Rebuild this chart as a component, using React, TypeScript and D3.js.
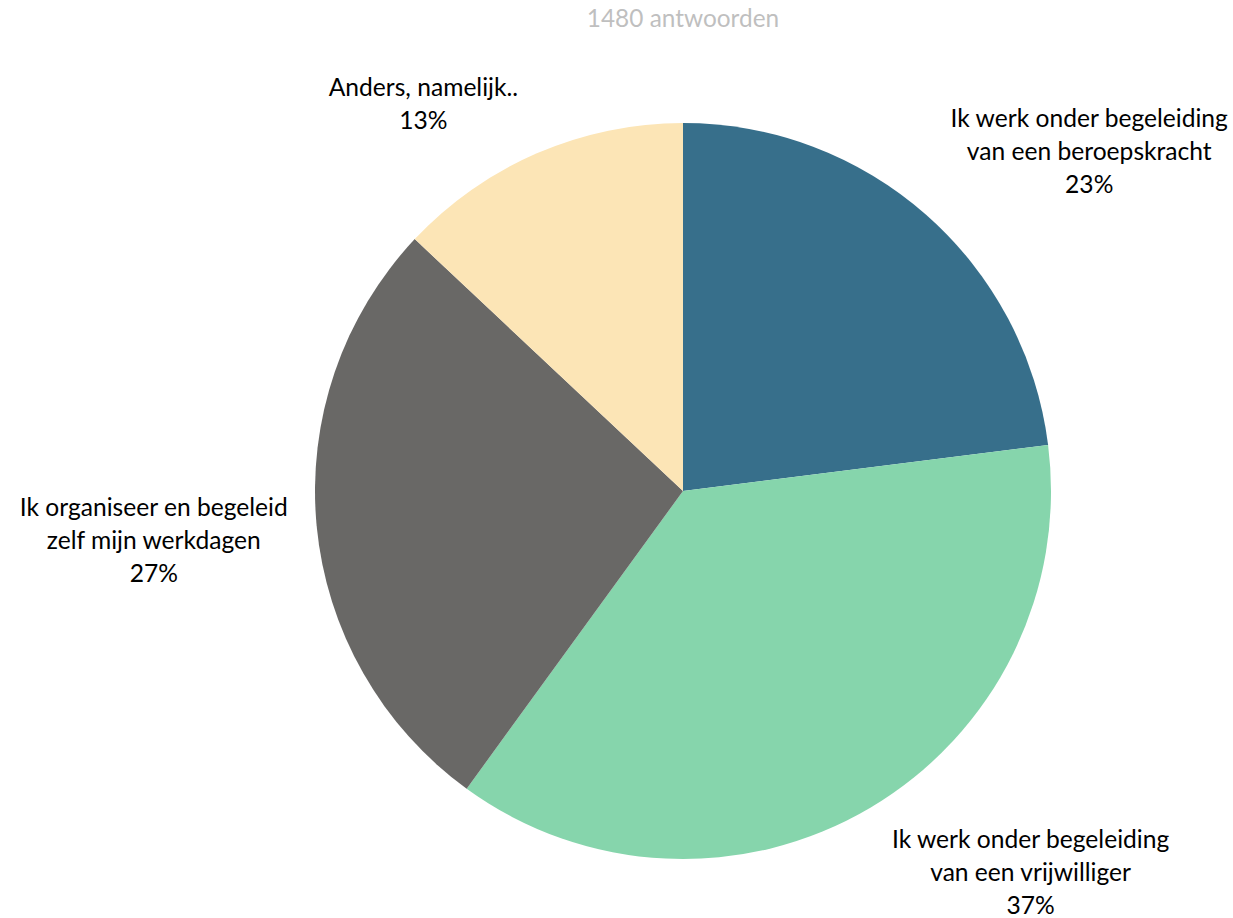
import React, {useEffect, useRef} from 'react';
import * as d3 from 'd3';

const categories = [
  'Ik werk onder begeleiding|van een beroepskracht',
  'Ik werk onder begeleiding|van een vrijwilliger',
  'Ik organiseer en begeleid|zelf mijn werkdagen',
  'Anders, namelijk..'
];
const shares = [23, 37, 27, 13];
const colors = ['#376f8b', '#86d5ac', '#696866', '#fce5b6'];
const title = '1480 antwoorden';

const W = 1233;
const H = 918;
const cx = 683;
const cy = 491;
const radius = 368;
const font = 'Lato, "Open Sans", sans-serif';

function App() {
  const ref = useRef<SVGSVGElement>(null);

  useEffect(() => {
    const svg = d3.select(ref.current);
    svg.selectAll('*').remove();

    const rows = categories.map((c, i) => ({name: c, value: shares[i], color: colors[i]}));
    const pie = d3.pie<any>().sort(null).value(d => d.value);
    const arcs = pie(rows);
    const arc = d3.arc<any>().innerRadius(0).outerRadius(radius);
    const labelArc = d3.arc<any>().innerRadius(radius + 17).outerRadius(radius + 17);

    svg.append('text')
      .attr('x', cx)
      .attr('y', 27)
      .attr('text-anchor', 'middle')
      .attr('font-family', font)
      .attr('font-size', 24.4)
      .attr('fill', '#bfbfbf')
      .text(title);

    const g = svg.append('g').attr('transform', `translate(${cx},${cy})`);

    g.selectAll('path.slice')
      .data(arcs)
      .join('path')
      .attr('class', 'slice')
      .attr('d', arc)
      .attr('fill', d => d.data.color);

    // labels: box corner sits just outside the slice's mid angle
    arcs.forEach(a => {
      const lines = [...a.data.name.split('|'), `${a.data.value}%`];
      const lg = g.append('g');
      const t = lg.append('text')
        .attr('text-anchor', 'middle')
        .attr('font-family', font)
        .attr('font-size', 24.6)
        .attr('fill', '#000');
      lines.forEach((ln, i) => {
        t.append('tspan').attr('x', 0).attr('y', i * 33).text(ln);
      });
      const bb = (t.node() as SVGTextElement).getBBox();
      const [px, py] = labelArc.centroid(a);
      const mid = (a.startAngle + a.endAngle) / 2;
      const s = Math.sin(mid);
      const c = Math.cos(mid);
      let x0: number;
      if (s > 0.3) x0 = px + 13;
      else if (s < -0.3) x0 = px - 12 - bb.width;
      else x0 = px - bb.width / 2;
      let y0: number;
      if (c > 0.3) y0 = py - bb.height - 4;
      else if (c < -0.3) y0 = py + 2;
      else y0 = py - bb.height / 2 + 12;
      lg.attr('transform', `translate(${x0 - bb.x},${y0 - bb.y})`);
    });
  }, []);

  return (
    <svg ref={ref} width={W} height={H}
      style={{position: 'absolute', left: 0, top: 0, background: '#fff'}}/>
  );
}

export default App;
